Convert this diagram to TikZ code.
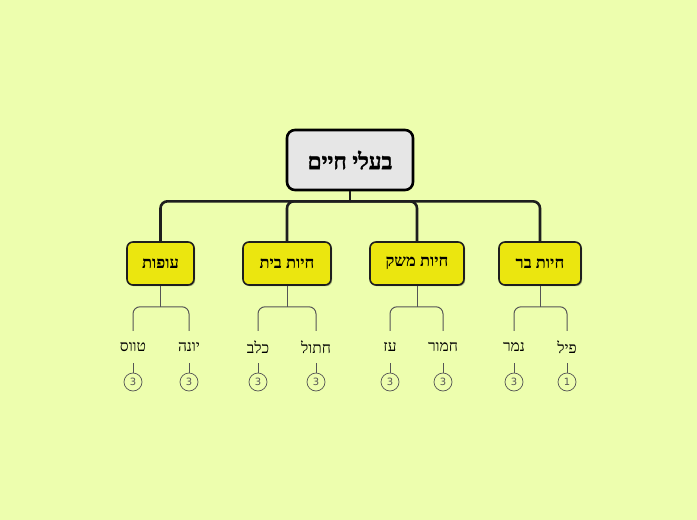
\documentclass[tikz,border=0pt]{standalone}
\usepackage{fontspec}
\setmainfont{Liberation Serif}
\newfontfamily\heb[Script=Hebrew, BoldFont={Liberation Serif Bold}]{Liberation Serif}
\newfontfamily\hebroot[Script=Hebrew, FakeBold=1.6]{Liberation Serif Bold}
\newfontfamily\numf{DejaVu Sans}
\TeXXeTstate=1
\usetikzlibrary{shadows,calc}
\definecolor{bg}{HTML}{EDFEAE}
\definecolor{ylw}{HTML}{EBE60F}
\definecolor{rootfill}{HTML}{E6E6E6}
\definecolor{dark}{HTML}{1E1E1E}
\definecolor{leafc}{HTML}{555555}
\tikzset{
  rootbox/.style={draw=black, line width=2.6pt, fill=rootfill, rounded corners=8pt,
    minimum width=126pt, minimum height=60pt, inner sep=0pt,
    font=\hebroot\fontsize{22.5}{26}\selectfont},
  catbox/.style={draw=dark, line width=1.6pt, fill=ylw, rounded corners=6pt,
    minimum height=43pt, inner sep=0pt,
    drop shadow={shadow xshift=1.2pt, shadow yshift=-1.2pt, opacity=0.3, fill=black},
    font=\heb\bfseries\fontsize{16.5}{19}\selectfont},
  leafnode/.style={minimum height=32pt, inner sep=0pt, font=\heb\fontsize{15.5}{18}\selectfont},
  numc/.style={circle, draw=leafc, line width=0.7pt, minimum size=18pt, inner sep=0pt,
    text=leafc, font=\numf\fontsize{10}{11}\selectfont},
  mainline/.style={draw=dark, line width=2.6pt, rounded corners=7pt},
  leafline/.style={draw=leafc, line width=1pt, rounded corners=7pt},
}
\newcommand{\R}[1]{\beginR #1\endR}
\begin{document}
\begin{tikzpicture}[x=1pt,y=-1pt]
\fill[bg] (0,0) rectangle (697,520);
\useasboundingbox (0,0) rectangle (697,520);

\node[rootbox] (root) at (350,160) {\R{בעלי חיים}};

\node[catbox, minimum width=67pt] (c1) at (160.5,263.5) {\R{עופות}};
\node[catbox, minimum width=88pt] (c2) at (287,263.5) {\R{חיות בית}};
\node[catbox, minimum width=94pt] (c3) at (417,263.5) {\R{חיות משק}};
\node[catbox, minimum width=82pt] (c4) at (540,263.5) {\R{חיות בר}};

\coordinate (hub) at ($(root.south)+(0,10)$);
\draw[mainline, rounded corners=0pt] (root.south) -- (hub);
\foreach \c in {c1,c2,c3,c4}{
  \draw[mainline] (hub) -| (\c.north);
}

% leaves
\node[leafnode] (l1a) at (133,347) {\R{טווס}};
\node[leafnode] (l1b) at (189,347) {\R{יונה}};
\node[leafnode] (l2a) at (258,347) {\R{כלב}};
\node[leafnode] (l2b) at (316,347) {\R{חתול}};
\node[leafnode] (l3a) at (390,347) {\R{עז}};
\node[leafnode] (l3b) at (443,347) {\R{חמור}};
\node[leafnode] (l4a) at (514,347) {\R{נמר}};
\node[leafnode] (l4b) at (567,347) {\R{פיל}};

\foreach \c/\a/\b in {c1/l1a/l1b, c2/l2a/l2b, c3/l3a/l3b, c4/l4a/l4b}{
  \draw[leafline, rounded corners=0pt] (\c.south) -- ++(0,21);
  \draw[leafline] (\a.north) |- ($(\c.south)+(0,21)$) -| (\b.north);
}

\foreach \l/\n in {l1a/3, l1b/3, l2a/3, l2b/3, l3a/3, l3b/3, l4a/3, l4b/1}{
  \node[numc] (n\l) at ($(\l.center)+(0,35)$) {\n};
  \draw[leafline] (\l.south) -- (n\l.north);
}
\end{tikzpicture}
\end{document}
